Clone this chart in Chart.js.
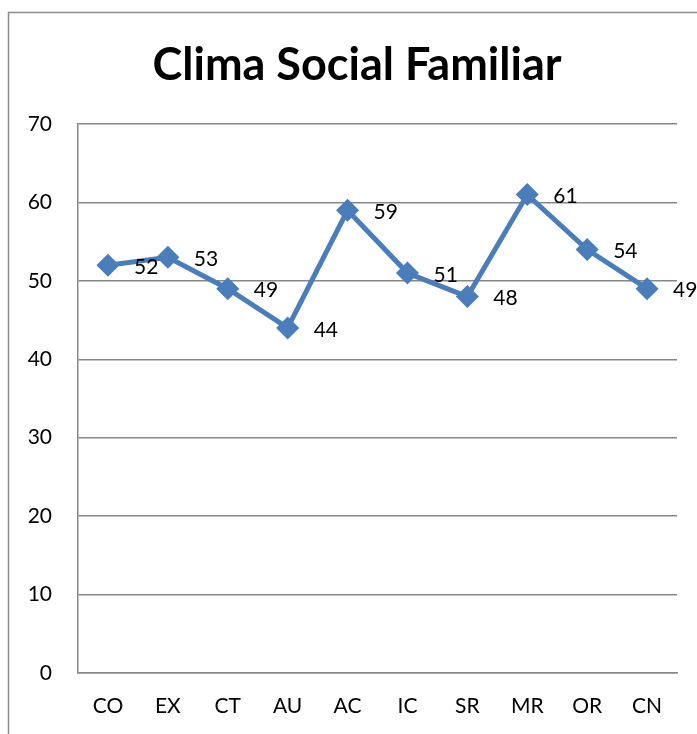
<!DOCTYPE html>
<html>
<head>
<meta charset="utf-8">
<script src="https://cdn.jsdelivr.net/npm/chart.js@4.4.1/dist/chart.umd.min.js"></script>
<style>
  html, body { margin: 0; padding: 0; background: #ffffff; }
  #chart { display: block; }
</style>
</head>
<body>
<canvas id="chart" width="697" height="734"></canvas>
<script>
// Data for the chart
const categories = ['CO', 'EX', 'CT', 'AU', 'AC', 'IC', 'SR', 'MR', 'OR', 'CN'];
const values = [52, 53, 49, 44, 59, 51, 48, 61, 54, 49];
const yTicks = [0, 10, 20, 30, 40, 50, 60, 70];
const chartTitle = 'Clima Social Familiar';

const lineColor = '#4a7ebb';
const gridColor = '#878787';

// Outer frame of the chart (only top and left edges are visible) + title
const framePlugin = {
    id: 'frame',
    beforeDraw(chart) {
        const ctx = chart.ctx;
        ctx.save();
        ctx.fillStyle = '#ffffff';
        ctx.fillRect(0, 0, chart.width, chart.height);
        ctx.strokeStyle = '#8c8c8c';
        ctx.lineWidth = 1.5;
        ctx.strokeRect(8.5, 12.5, chart.width + 50, chart.height + 50);
        // title is centred on the whole frame, not on the plot
        ctx.font = 'bold 45px Lato';
        ctx.fillStyle = '#000000';
        ctx.textAlign = 'center';
        ctx.textBaseline = 'middle';
        ctx.fillText(chartTitle, 357, 65);
        ctx.restore();
    }
};

// Value labels to the right of each point
const valueLabels = {
    id: 'valueLabels',
    afterDatasetsDraw(chart) {
        const ctx = chart.ctx;
        const meta = chart.getDatasetMeta(0);
        ctx.save();
        ctx.font = '21px Lato';
        ctx.fillStyle = '#000000';
        ctx.textAlign = 'left';
        ctx.textBaseline = 'middle';
        meta.data.forEach((pt, i) => {
            ctx.fillText(String(values[i]), pt.x + 26, pt.y + 2);
        });
        ctx.restore();
    }
};

Chart.defaults.font.family = 'Lato';
Chart.defaults.color = '#000000';

new Chart(document.getElementById('chart').getContext('2d'), {
    type: 'line',
    data: {
        labels: categories,
        datasets: [{
            data: values,
            borderColor: lineColor,
            backgroundColor: lineColor,
            borderWidth: 5,
            pointStyle: 'rectRot',
            pointRadius: 8,
            pointBackgroundColor: lineColor,
            pointBorderColor: lineColor,
            tension: 0,
            fill: false
        }]
    },
    options: {
        responsive: false,
        animation: false,
        layout: { padding: { left: 0, right: 20, top: 124, bottom: 0 } },
        plugins: {
            legend: { display: false },
            tooltip: { enabled: false },
            title: { display: false }
        },
        scales: {
            x: {
                offset: true,
                grid: { display: false, drawTicks: false },
                border: { display: true, color: gridColor, width: 1.5 },
                ticks: { color: '#000000', font: { size: 21 }, padding: 21, maxRotation: 0 },
                afterFit(scale) { scale.height = 61; }
            },
            y: {
                min: 0,
                max: 70,
                afterBuildTicks(scale) { scale.ticks = yTicks.map(v => ({ value: v })); },
                grid: { color: gridColor, lineWidth: 1.5, drawTicks: false },
                border: { display: true, color: gridColor, width: 1.5 },
                ticks: { color: '#000000', font: { size: 21 }, padding: 26 },
                afterFit(scale) { scale.width = 78; }
            }
        }
    },
    plugins: [framePlugin, valueLabels]
});
</script>
</body>
</html>
